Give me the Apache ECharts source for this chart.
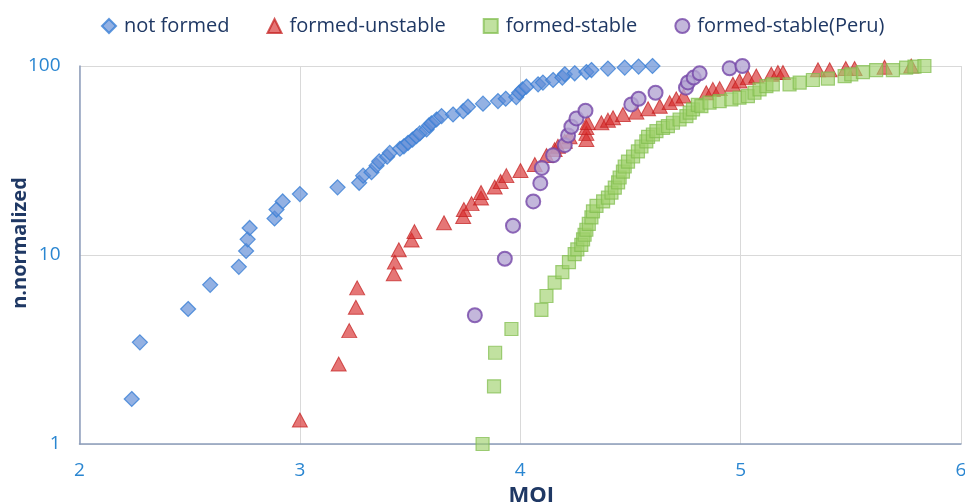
<!DOCTYPE html>
<html>
<head>
<meta charset="utf-8">
<script src="https://cdn.jsdelivr.net/npm/echarts@6/dist/echarts.min.js"></script>
<style>
  html, body { margin: 0; padding: 0; background: #fff; }
  #chart { width: 965px; height: 504px; }
</style>
</head>
<body>
<div id="chart"></div>
<script>
// Cumulative normalized counts against MOI, one [MOI, n.normalized] list per outcome
const notFormed = [
  [2.237, 1.73], [2.274, 3.45], [2.493, 5.18], [2.593, 6.95], [2.723, 8.66],
  [2.756, 10.5], [2.763, 12.1], [2.772, 13.9], [2.885, 15.6], [2.894, 17.4],
  [2.922, 19.2], [3.0, 21.0], [3.171, 22.8], [3.269, 24.1], [3.287, 26.3],
  [3.325, 27.4], [3.348, 29.7], [3.36, 31.3], [3.396, 33.1], [3.408, 34.7],
  [3.454, 36.5], [3.472, 37.6], [3.491, 39.2], [3.511, 40.8], [3.529, 42.5],
  [3.544, 44.0], [3.575, 46.2], [3.586, 48.5], [3.597, 49.7], [3.62, 52.1],
  [3.643, 54.3], [3.695, 55.4], [3.741, 57.7], [3.763, 60.9], [3.831, 63.2],
  [3.899, 65.2], [3.934, 67.1], [3.982, 68.5], [3.995, 72.2], [4.01, 75.2],
  [4.028, 77.7], [4.081, 80.0], [4.103, 81.7], [4.149, 84.3], [4.191, 86.8],
  [4.202, 90.4], [4.247, 91.5], [4.3, 92.9], [4.323, 95.2], [4.398, 96.9],
  [4.474, 98.1], [4.537, 99.3], [4.6, 100]
];

const formedUnstable = [
  [3.0, 1.34], [3.176, 2.65], [3.224, 3.98], [3.254, 5.29], [3.26, 6.7],
  [3.426, 7.95], [3.431, 9.17], [3.449, 10.66], [3.507, 12.0], [3.52, 13.3],
  [3.654, 14.8], [3.741, 16.0], [3.744, 17.4], [3.779, 18.7], [3.822, 20.0],
  [3.822, 21.4], [3.884, 22.9], [3.911, 24.5], [3.937, 26.3], [4.001, 28.0],
  [4.066, 30.1], [4.119, 33.6], [4.156, 36.1], [4.171, 37.6], [4.202, 40.0],
  [4.224, 42.2], [4.3, 40.8], [4.3, 44.0], [4.3, 47.3], [4.306, 50.3],
  [4.368, 50.1], [4.398, 51.7], [4.421, 53.2], [4.466, 55.4], [4.527, 57.0],
  [4.58, 59.4], [4.633, 61.3], [4.678, 64.0], [4.708, 67.0], [4.741, 69.3],
  [4.844, 72.2], [4.874, 75.2], [4.905, 75.9], [4.965, 80.0], [4.995, 83.3],
  [5.033, 86.8], [5.071, 88.5], [5.139, 90.4], [5.169, 92.3], [5.192, 92.3],
  [5.351, 95.5], [5.404, 95.5], [5.477, 97.0], [5.517, 97.0], [5.653, 98.5],
  [5.774, 100]
];

const formedStable = [
  [3.829, 1.0], [3.881, 2.02], [3.886, 3.04], [3.96, 4.06], [4.096, 5.12],
  [4.119, 6.07], [4.156, 7.15], [4.191, 8.12], [4.221, 9.17], [4.247, 10.1],
  [4.259, 10.7], [4.277, 11.3], [4.285, 12.1], [4.292, 12.8], [4.3, 13.6],
  [4.311, 14.6], [4.323, 15.8], [4.33, 17.0], [4.346, 18.2], [4.376, 19.2],
  [4.398, 20.1], [4.414, 21.4], [4.429, 22.7], [4.444, 24.2], [4.451, 25.7],
  [4.466, 27.6], [4.474, 29.4], [4.489, 31.2], [4.512, 33.2], [4.534, 35.3],
  [4.55, 37.5], [4.572, 39.9], [4.58, 42.2], [4.602, 43.4], [4.618, 45.2],
  [4.648, 47.1], [4.67, 48.1], [4.693, 50.1], [4.723, 52.1], [4.754, 54.3],
  [4.769, 56.6], [4.784, 58.9], [4.806, 62.3], [4.822, 61.3], [4.859, 64.0],
  [4.905, 65.2], [4.958, 66.6], [4.995, 68.0], [5.033, 69.3], [5.063, 72.2],
  [5.086, 75.2], [5.117, 78.3], [5.146, 80.0], [5.222, 80.0], [5.268, 81.7],
  [5.328, 84.3], [5.396, 85.8], [5.472, 88.5], [5.502, 90.4], [5.555, 92.9],
  [5.615, 95.2], [5.691, 95.2], [5.751, 98.1], [5.789, 99.3], [5.834, 100]
];

const formedStablePeru = [
  [3.794, 4.8], [3.93, 9.55], [3.967, 14.3], [4.059, 19.2], [4.091, 24.0],
  [4.098, 28.9], [4.149, 33.7], [4.202, 38.1], [4.217, 42.9], [4.232, 47.7],
  [4.255, 52.8], [4.296, 58.0], [4.504, 62.6], [4.537, 67.1], [4.614, 72.2],
  [4.752, 76.8], [4.761, 81.9], [4.787, 86.8], [4.814, 91.5], [4.95, 97.2],
  [5.008, 100]
];

const seriesNames = ['not formed', 'formed-unstable', 'formed-stable', 'formed-stable(Peru)'];
const xTicks = [2, 3, 4, 5, 6];
const yTicks = [1, 10, 100];

const tickColor = '#2a86d1';
const titleColor = '#1f3864';
const fontFamily = '"Open Sans", "Noto Sans", sans-serif';

const chart = echarts.init(document.getElementById('chart'), null, { renderer: 'canvas' });

chart.setOption({
  backgroundColor: '#ffffff',
  animation: false,
  textStyle: { fontFamily: fontFamily },
  grid: { left: 79.5, right: 4, top: 66, bottom: 60, containLabel: false, outerBoundsMode: 'none' },
  legend: {
    data: seriesNames,
    left: 96,
    top: 11,
    padding: [5, 5, 5, 5],
    itemWidth: 14,
    itemHeight: 14,
    itemGap: 37,
    textStyle: { color: titleColor, fontSize: 20, fontFamily: fontFamily, padding: [0, 0, 0, 3] }
  },
  xAxis: {
    type: 'value',
    min: xTicks[0],
    max: xTicks[xTicks.length - 1],
    interval: 1,
    name: 'MOI',
    nameLocation: 'middle',
    nameGap: 41,
    nameMoveOverlap: false,
    nameTextStyle: { color: titleColor, fontSize: 22, fontWeight: 'bold', padding: [0, 0, 0, 22] },
    axisLine: { show: true, lineStyle: { color: '#8c9dbb', width: 1.5 } },
    axisTick: { show: false },
    axisLabel: { color: tickColor, fontSize: 19, margin: 17 },
    splitLine: { show: true, lineStyle: { color: '#d9d9d9', width: 1 } }
  },
  yAxis: {
    type: 'log',
    logBase: 10,
    min: yTicks[0],
    max: yTicks[yTicks.length - 1],
    name: 'n.normalized',
    nameLocation: 'middle',
    nameRotate: 90,
    nameGap: 49,
    nameMoveOverlap: false,
    nameTextStyle: { color: titleColor, fontSize: 20, fontWeight: 'bold', padding: [0, 0, 0, 24] },
    axisLine: { show: true, lineStyle: { color: '#8c9dbb', width: 1.5 } },
    axisTick: { show: false },
    minorTick: { show: false },
    axisLabel: { color: tickColor, fontSize: 19, margin: 19 },
    splitLine: { show: true, lineStyle: { color: '#d9d9d9', width: 1 } }
  },
  series: [
    {
      name: seriesNames[0],
      type: 'scatter',
      symbol: 'diamond',
      symbolSize: 15,
      data: notFormed,
      itemStyle: { color: 'rgba(96,140,214,0.85)', borderColor: '#3a80d6', borderWidth: 1.2 },
      z: 2
    },
    {
      name: seriesNames[1],
      type: 'scatter',
      symbol: 'triangle',
      symbolSize: [15, 14],
      data: formedUnstable,
      itemStyle: { color: 'rgba(214,40,40,0.8)', borderColor: 'rgba(196,30,30,0.9)', borderWidth: 1 },
      z: 3
    },
    {
      name: seriesNames[2],
      type: 'scatter',
      symbol: 'rect',
      symbolSize: 13,
      data: formedStable,
      itemStyle: { color: 'rgba(158,208,106,0.8)', borderColor: 'rgba(128,188,76,0.9)', borderWidth: 1.2 },
      z: 4
    },
    {
      name: seriesNames[3],
      type: 'scatter',
      symbol: 'circle',
      symbolSize: 14,
      data: formedStablePeru,
      itemStyle: { color: '#b4a5d2', borderColor: '#7446a8', borderWidth: 2 },
      z: 5
    }
  ]
});
</script>
</body>
</html>
